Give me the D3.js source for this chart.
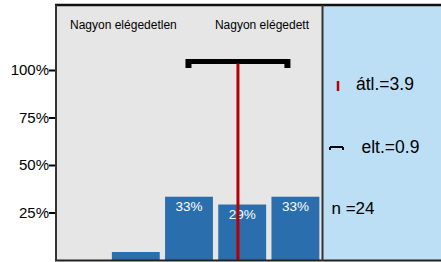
<!DOCTYPE html>
<html>
<head>
<meta charset="utf-8">
<script src="https://cdn.jsdelivr.net/npm/d3@7"></script>
<style>
  body { margin: 0; background: #fff; }
  svg text { font-family: "Liberation Sans", Arial, sans-serif; }
</style>
</head>
<body>
<div id="chart"></div>
<script>
// data
var categories = [1, 2, 3, 4, 5];
var percents = [0, 4.2, 33.3, 29.2, 33.3];
var tickValues = [25, 50, 75, 100];
var endLabels = ["Nagyon elégedetlen", "Nagyon elégedett"];
var mean = 3.92, sd = 0.93, n = 24;

var W = 441, H = 262;
var plot = {left: 56, right: 322, top: 5, bottom: 260};
var red = "#b80000";

var svg = d3.select("#chart").append("svg")
    .attr("width", W).attr("height", H);

// panels
svg.append("rect")
  .attr("x", plot.left).attr("y", plot.top)
  .attr("width", plot.right - plot.left).attr("height", plot.bottom - plot.top)
  .attr("fill", "#e6e6e6");
svg.append("rect")
  .attr("x", plot.right).attr("y", plot.top)
  .attr("width", W - plot.right).attr("height", plot.bottom - plot.top)
  .attr("fill", "#bddff5");

var x = d3.scaleBand()
  .domain(categories)
  .range([plot.left, plot.right])
  .paddingInner(0.1)
  .paddingOuter(0.05);

var y = d3.scaleLinear()
  .domain([0, 100])
  .range([plot.bottom, 70]);

// mean scale (category value -> band centre)
var xm = d3.scaleLinear()
  .domain([1, 5])
  .range([x(1) + x.bandwidth() / 2, x(5) + x.bandwidth() / 2]);

// bars
svg.selectAll("rect.bar")
  .data(categories)
  .enter()
  .append("rect")
    .attr("class", "bar")
    .attr("x", d => x(d))
    .attr("y", (d, i) => y(percents[i]))
    .attr("width", x.bandwidth())
    .attr("height", (d, i) => y(0) - y(percents[i]))
    .attr("fill", "#2a6ead");

// bar labels (only where the bar is tall enough)
svg.selectAll("text.pct")
  .data(categories.filter((d, i) => percents[i] >= 10))
  .enter()
  .append("text")
    .attr("class", "pct")
    .attr("x", d => x(d) + x.bandwidth() / 2)
    .attr("y", d => y(percents[categories.indexOf(d)]) + 14)
    .attr("text-anchor", "middle")
    .attr("fill", "#fff")
    .style("font-size", "13.5px")
    .text(d => Math.round(percents[categories.indexOf(d)]) + "%");

// y axis
var yAxis = svg.append("g")
  .attr("transform", "translate(" + plot.left + ",0)")
  .call(d3.axisLeft(y).tickValues(tickValues).tickSize(7).tickFormat(d => d + "%"));
yAxis.select(".domain").remove();
yAxis.selectAll(".tick line").attr("stroke", "#000").attr("stroke-width", 2);
yAxis.selectAll(".tick text")
  .attr("x", -7)
  .style("font-size", "15px")
  .attr("fill", "#000");

// end labels
svg.append("text")
  .attr("x", 70).attr("y", 29)
  .style("font-size", "12px")
  .text(endLabels[0]);
svg.append("text")
  .attr("x", 309).attr("y", 29)
  .attr("text-anchor", "end")
  .style("font-size", "12px")
  .text(endLabels[1]);

// whisker (mean +/- sd)
var wy = 61.5;
var whisk = svg.append("g");
whisk.append("line")
  .attr("x1", xm(mean - sd) - 2).attr("x2", xm(mean + sd) + 2)
  .attr("y1", wy).attr("y2", wy)
  .attr("stroke", "#000").attr("stroke-width", 5);
[mean - sd, mean + sd].forEach(function(v) {
  whisk.append("rect")
    .attr("x", xm(v) - 3)
    .attr("y", wy - 2.5)
    .attr("width", 6).attr("height", 9)
    .attr("fill", "#000");
});

// mean line
svg.append("line")
  .attr("x1", xm(mean)).attr("x2", xm(mean))
  .attr("y1", wy + 2).attr("y2", plot.bottom)
  .attr("stroke", red).attr("stroke-width", 3);

// frame
svg.append("line")
  .attr("x1", plot.left - 1).attr("x2", W)
  .attr("y1", plot.top).attr("y2", plot.top)
  .attr("stroke", "#111").attr("stroke-width", 2.5);
svg.append("line")
  .attr("x1", plot.left - 1).attr("x2", W)
  .attr("y1", plot.bottom + 0.5).attr("y2", plot.bottom + 0.5)
  .attr("stroke", "#222").attr("stroke-width", 2);
svg.append("line")
  .attr("x1", plot.left).attr("x2", plot.left)
  .attr("y1", plot.top).attr("y2", plot.bottom + 1)
  .attr("stroke", "#333").attr("stroke-width", 2);
svg.append("line")
  .attr("x1", plot.right + 0.5).attr("x2", plot.right + 0.5)
  .attr("y1", plot.top).attr("y2", plot.bottom + 1)
  .attr("stroke", "#333").attr("stroke-width", 2);

// legend
var leg = svg.append("g");
leg.append("line")
  .attr("x1", 338).attr("x2", 338).attr("y1", 81).attr("y2", 91)
  .attr("stroke", red).attr("stroke-width", 2.5);
leg.append("text")
  .attr("x", 356).attr("y", 90)
  .style("font-size", "17.5px")
  .text("átl.=" + mean.toFixed(1));

leg.append("line")
  .attr("x1", 330).attr("x2", 343).attr("y1", 147).attr("y2", 147)
  .attr("stroke", "#000").attr("stroke-width", 2);
leg.append("rect").attr("x", 329).attr("y", 147).attr("width", 2).attr("height", 3).attr("fill", "#000");
leg.append("rect").attr("x", 342).attr("y", 147).attr("width", 2).attr("height", 3).attr("fill", "#000");
leg.append("text")
  .attr("x", 361.5).attr("y", 152.5)
  .style("font-size", "17.5px")
  .text("elt.=" + sd.toFixed(1));

leg.append("text")
  .attr("x", 331.5).attr("y", 214)
  .style("font-size", "17px")
  .text("n =" + n);
</script>
</body>
</html>
